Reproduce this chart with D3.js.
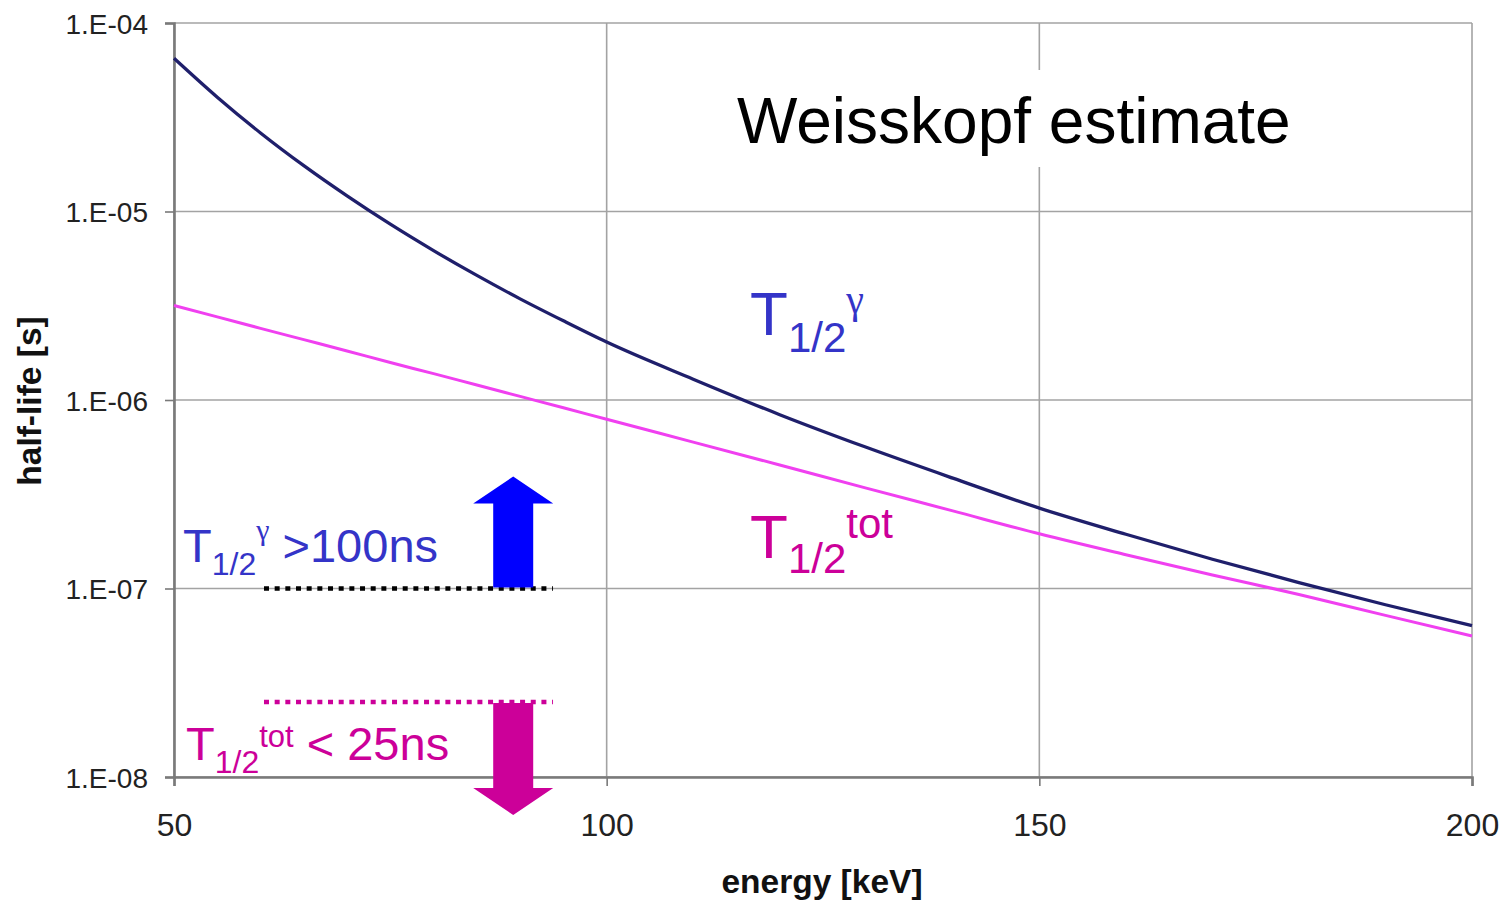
<!DOCTYPE html>
<html>
<head>
<meta charset="utf-8">
<script src="https://cdn.jsdelivr.net/npm/d3@7"></script>
<style>
  html, body { margin: 0; padding: 0; background: #fff; }
  svg { display: block; font-family: "Liberation Sans", Arial, sans-serif; }
</style>
</head>
<body>
<svg id="chart" width="1511" height="904"></svg>
<script>
// Photon energy grid (keV)
const energyKeV = [50, 55, 60, 65, 70, 75, 80, 85, 90, 95, 100, 110, 120, 130, 140, 150, 160, 170, 180, 190, 200];
// Weisskopf gamma-decay half-life (s)
const halfLifeGamma = [6.5e-5, 4.04e-5, 2.61e-5, 1.75e-5, 1.21e-5, 8.56e-6, 6.2e-6, 4.58e-6, 3.44e-6, 2.63e-6, 2.03e-6,
                       1.29e-6, 8.36e-7, 5.61e-7, 3.85e-7, 2.67e-7, 1.94e-7, 1.43e-7, 1.075e-7, 8.2e-8, 6.35e-8];
// Total half-life including conversion (s)
const halfLifeTotal = [3.17e-6, 2.76e-6, 2.4e-6, 2.09e-6, 1.82e-6, 1.58e-6, 1.38e-6, 1.2e-6, 1.045e-6, 9.1e-7, 7.9e-7,
                       5.98e-7, 4.52e-7, 3.41e-7, 2.58e-7, 1.95e-7, 1.51e-7, 1.18e-7, 9.3e-8, 7.2e-8, 5.6e-8];
// Axis ticks
const xTicks = [50, 100, 150, 200];
const yTicks = [1e-8, 1e-7, 1e-6, 1e-5, 1e-4];
// Experimental limits (s) and the energy span of their markers (keV)
const gammaLimit = 1e-7;     // T1/2 gamma > 100 ns
const totalLimit = 2.5e-8;   // T1/2 tot < 25 ns
const limitSpanKeV = [60.4, 93.8];
const arrowKeV = 89.2;

const svg = d3.select("#chart");
const x = d3.scaleLinear().domain([50, 200]).range([174, 1472]);
const y = d3.scaleLog().domain([1e-8, 1e-4]).range([777, 23]);

const gridColor = "#a3a3a3";
const axisColor = "#7a7a7a";
const navy = "#1f1f6b";
const pinkLine = "#f040f0";
const blueText = "#3434c8";
const magenta = "#cc0099";

// gridlines
const grid = svg.append("g");
grid.selectAll("line.h").data(yTicks).join("line")
  .attr("x1", x(50)).attr("x2", x(200))
  .attr("y1", d => y(d)).attr("y2", d => y(d))
  .attr("stroke", gridColor).attr("stroke-width", 1.6);
grid.selectAll("line.v").data(xTicks).join("line")
  .attr("x1", d => x(d)).attr("x2", d => x(d))
  .attr("y1", y(1e-4)).attr("y2", y(1e-8))
  .attr("stroke", gridColor).attr("stroke-width", 1.6);

// axes
const fmtY = d => "1.E-" + String(Math.round(-Math.log10(d))).padStart(2, "0");
const yAxis = svg.append("g").attr("transform", `translate(${x(50)},0)`)
  .call(d3.axisLeft(y).tickValues(yTicks).tickFormat(fmtY).tickSize(9).tickPadding(17));
const xAxis = svg.append("g").attr("transform", `translate(0,${y(1e-8)})`)
  .call(d3.axisBottom(x).tickValues(xTicks).tickFormat(d3.format("d")).tickSize(9).tickPadding(20));
[yAxis, xAxis].forEach(a => {
  a.select(".domain").attr("stroke", axisColor).attr("stroke-width", 2.6);
  a.selectAll(".tick line").attr("stroke", axisColor).attr("stroke-width", 1.6);
  a.selectAll(".tick text").attr("fill", "#222").attr("font-family", "Liberation Sans, Arial, sans-serif");
});
yAxis.selectAll(".tick text").attr("font-size", 28).attr("dy", "0.36em");
xAxis.selectAll(".tick text").attr("font-size", 32).attr("dy", "0.95em");

// axis titles
svg.append("text").attr("x", 822).attr("y", 893).attr("text-anchor", "middle")
  .attr("font-size", 33.5).attr("font-weight", "bold").attr("fill", "#111").text("energy [keV]");
svg.append("text").attr("transform", "translate(41,401) rotate(-90)").attr("text-anchor", "middle")
  .attr("font-size", 33.5).attr("font-weight", "bold").attr("fill", "#111").text("half-life [s]");

// title box
svg.append("rect").attr("x", 714).attr("y", 70).attr("width", 678).attr("height", 97).attr("fill", "#fff");
svg.append("text").attr("x", 737).attr("y", 143).attr("font-size", 64).attr("fill", "#000").text("Weisskopf estimate");

// curves
const line = d3.line().x(d => x(d[0])).y(d => y(d[1])).curve(d3.curveMonotoneX);
svg.append("path").datum(energyKeV.map((e, i) => [e, halfLifeTotal[i]]))
  .attr("d", line).attr("fill", "none").attr("stroke", pinkLine).attr("stroke-width", 3);
svg.append("path").datum(energyKeV.map((e, i) => [e, halfLifeGamma[i]]))
  .attr("d", line).attr("fill", "none").attr("stroke", navy).attr("stroke-width", 3.3);

// label helper: parts = [text, fontSize, baselineY, family]
function label(x0, color, parts) {
  const t = svg.append("text").attr("x", x0).attr("fill", color);
  parts.forEach(([s, fs, by, fam]) => {
    const sp = t.append("tspan").attr("y", by).attr("font-size", fs).text(s);
    if (fam) sp.attr("font-family", fam);
  });
}
const serif = "Liberation Serif, Times New Roman, serif";

// curve labels
label(750, blueText, [["T", 62, 335], ["1/2", 42, 352], ["γ", 40, 313, serif]]);
label(750, magenta, [["T", 62, 558], ["1/2", 42, 573], ["tot", 42, 538]]);

// limit markers
svg.append("line").attr("x1", x(limitSpanKeV[0])).attr("x2", x(limitSpanKeV[1]))
  .attr("y1", y(gammaLimit)).attr("y2", y(gammaLimit))
  .attr("stroke", "#000").attr("stroke-width", 4.5).attr("stroke-dasharray", "5,5.67");
svg.append("line").attr("x1", x(limitSpanKeV[0])).attr("x2", x(limitSpanKeV[1]))
  .attr("y1", y(totalLimit)).attr("y2", y(totalLimit))
  .attr("stroke", magenta).attr("stroke-width", 4.5).attr("stroke-dasharray", "5,5.67");

// arrows: dir -1 points up, +1 points down
function arrow(cx, y0, len, dir, color) {
  const hw = 40, sw = 20, hl = 27;
  const yHead = y0 + dir * (len - hl), yTip = y0 + dir * len;
  const p = d3.path();
  p.moveTo(cx - sw, y0); p.lineTo(cx - sw, yHead); p.lineTo(cx - hw, yHead);
  p.lineTo(cx, yTip); p.lineTo(cx + hw, yHead); p.lineTo(cx + sw, yHead);
  p.lineTo(cx + sw, y0); p.closePath();
  svg.append("path").attr("d", p.toString()).attr("fill", color);
}
arrow(x(arrowKeV), y(gammaLimit) - 1, 111, -1, "#0000ff");
arrow(x(arrowKeV), y(totalLimit) + 1, 112, 1, magenta);

label(183, blueText, [["T", 47, 562], ["1/2", 32, 575], ["γ", 30, 540, serif], [" >100ns", 47, 562]]);
label(186, magenta, [["T", 47, 760], ["1/2", 32, 773], ["tot", 31, 747], [" < 25ns", 47, 760]]);
</script>
</body>
</html>
